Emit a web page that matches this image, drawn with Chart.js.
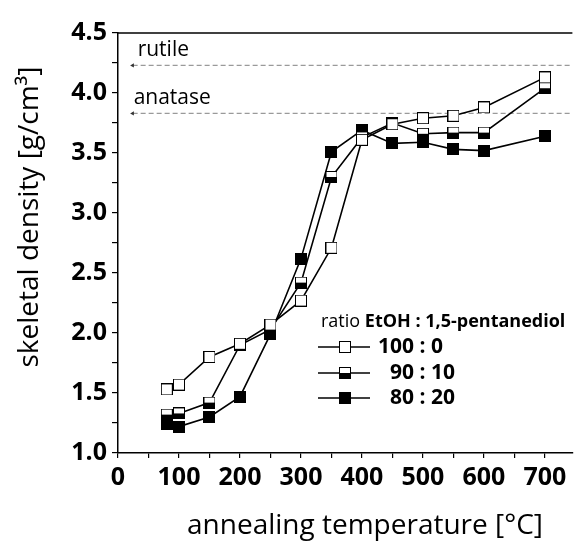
<!DOCTYPE html>
<html>
<head>
<meta charset="utf-8">
<script src="https://cdn.jsdelivr.net/npm/chart.js@4/dist/chart.umd.min.js"></script>
<style>
  html, body { margin: 0; padding: 0; background: #fff; overflow: hidden; }
  #wrap { position: relative; width: 580px; height: 541px; }
</style>
</head>
<body>
<div id="wrap"><canvas id="chart"></canvas></div>
<script>
// annealing temperature [°C]
const temps = [80, 100, 150, 200, 250, 300, 350, 400, 450, 500, 550, 600, 700];
// skeletal density [g/cm3] per EtOH : 1,5-pentanediol ratio
const dens100_0 = [1.53, 1.57, 1.80, 1.91, 2.07, 2.27, 2.71, 3.61, 3.74, 3.79, 3.81, 3.88, 4.13];
const dens90_10 = [1.32, 1.33, 1.42, 1.90, 2.03, 2.42, 3.30, 3.63, 3.75, 3.66, 3.67, 3.67, 4.04];
const dens80_20 = [1.24, 1.22, 1.30, 1.47, 1.99, 2.62, 3.51, 3.69, 3.58, 3.59, 3.53, 3.52, 3.64];
const seriesLabels = ['100 : 0', '90 : 10', '80 : 20'];

// reference densities of TiO2 phases
const phaseNames = ['rutile', 'anatase'];
const phaseDensity = [4.23, 3.83];
const phaseFrom = 24;   // arrow tip (x value)
const xMax = 745;

const FONT = '"Open Sans", "DejaVu Sans", sans-serif';

function makeMarker(kind) {
  const s = 12;
  const c = document.createElement('canvas');
  c.width = s; c.height = s;
  const g = c.getContext('2d');
  g.fillStyle = '#fff';
  g.fillRect(0, 0, s, s);
  g.fillStyle = '#000';
  if (kind === 'full') g.fillRect(0, 0, s, s);
  if (kind === 'half') g.fillRect(0, s / 2, s, s / 2);
  g.strokeStyle = '#000';
  g.lineWidth = 1;
  g.strokeRect(0.5, 0.5, s - 1, s - 1);
  return c;
}

const markers = [makeMarker('open'), makeMarker('half'), makeMarker('full')];
const seriesData = [dens100_0, dens90_10, dens80_20];

const datasets = seriesData.map((arr, i) => ({
  label: seriesLabels[i],
  data: temps.map((t, k) => ({ x: t, y: arr[k] })),
  borderColor: '#000',
  borderWidth: 1.6,
  pointStyle: markers[i],
  pointRadius: 6,
  order: i,
  fill: false
}));

phaseNames.forEach((name, i) => {
  datasets.push({
    label: name,
    data: [{ x: phaseFrom, y: phaseDensity[i] }, { x: xMax, y: phaseDensity[i] }],
    borderColor: '#9a9a9a',
    backgroundColor: '#333',
    borderWidth: 1.2,
    borderDash: [5, 3],
    pointStyle: 'triangle',
    pointRotation: 270,
    pointRadius: [2.5, 0],
    pointBorderWidth: 0,
    order: 10,
    isPhase: true
  });
});

const decorations = {
  id: 'decorations',
  afterDraw(chart) {
    const ctx = chart.ctx;
    const a = chart.chartArea;
    const xs = chart.scales.x, ys = chart.scales.y;
    ctx.save();
    // top frame line
    ctx.strokeStyle = '#000';
    ctx.lineWidth = 1.5;
    ctx.beginPath();
    ctx.moveTo(a.left, a.top);
    ctx.lineTo(a.right, a.top);
    ctx.stroke();

    // phase labels
    ctx.fillStyle = '#000';
    ctx.font = '21px ' + FONT;
    ctx.textBaseline = 'middle';
    ctx.textAlign = 'left';
    phaseNames.forEach((name, i) => {
      ctx.fillText(name, xs.getPixelForValue(phaseFrom) + (i === 0 ? 5 : 1), ys.getPixelForValue(phaseDensity[i]) - 15);
    });

    // y axis title
    ctx.save();
    ctx.translate(30, 217);
    ctx.rotate(-Math.PI / 2);
    ctx.textAlign = 'center';
    ctx.font = '28px ' + FONT;
    ctx.fillText('skeletal density [g/cm³]', 0, 0);
    ctx.restore();

    // x axis title
    ctx.textAlign = 'center';
    ctx.font = '28px ' + FONT;
    ctx.fillText('annealing temperature [°C]', 365, 526);

    // legend
    ctx.textAlign = 'left';
    ctx.font = '18px ' + FONT;
    const pre = 'ratio ';
    ctx.fillText(pre, 321, 322);
    const w = ctx.measureText(pre).width;
    ctx.font = 'bold 18px ' + FONT;
    ctx.fillText('EtOH : 1,5-pentanediol', 321 + w, 322);
    const rowsY = [347, 373, 398];
    const textX = [378, 390, 390];
    chart.data.datasets.forEach((ds, i) => {
      if (ds.isPhase) return;
      const y = rowsY[i];
      ctx.strokeStyle = '#000';
      ctx.lineWidth = 1.6;
      ctx.beginPath();
      ctx.moveTo(318, y);
      ctx.lineTo(370, y);
      ctx.stroke();
      ctx.drawImage(ds.pointStyle, 345 - 6, y - 6);
      ctx.font = 'bold 21px ' + FONT;
      ctx.fillText(ds.label, textX[i], y);
    });
    ctx.restore();
  }
};

new Chart(document.getElementById('chart'), {
  type: 'line',
  data: { datasets },
  options: {
    responsive: true,
    maintainAspectRatio: false,
    animation: false,
    events: [],
    layout: { padding: { top: 33, left: 0, right: 0, bottom: 0 } },
    plugins: { legend: { display: false }, tooltip: { enabled: false } },
    scales: {
      x: {
        type: 'linear',
        min: 0,
        max: xMax,
        afterFit: s => { s.height = 88; },
        border: { display: true, color: '#000', width: 1.5 },
        grid: { display: true, drawOnChartArea: false, drawTicks: true, tickLength: 5, color: '#000', lineWidth: 1.2 },
        ticks: {
          stepSize: 50,
          includeBounds: false,
          autoSkip: false,
          maxRotation: 0,
          padding: 5,
          color: '#000',
          font: { family: FONT, size: 25, weight: 'bold' },
          callback: v => (v % 100 === 0 ? String(v) : '')
        }
      },
      y: {
        min: 1.0,
        max: 4.5,
        afterFit: s => { s.width = 118; },
        border: { display: true, color: '#000', width: 1.5 },
        grid: { display: true, drawOnChartArea: false, drawTicks: true, tickLength: 6, color: '#000', lineWidth: 1.2 },
        ticks: {
          stepSize: 0.25,
          autoSkip: false,
          padding: 5,
          color: '#000',
          font: { family: FONT, size: 25, weight: 'bold' },
          callback: v => (Math.abs(v * 2 - Math.round(v * 2)) < 1e-6 ? v.toFixed(1) : '')
        }
      }
    }
  },
  plugins: [decorations]
});
</script>
</body>
</html>
